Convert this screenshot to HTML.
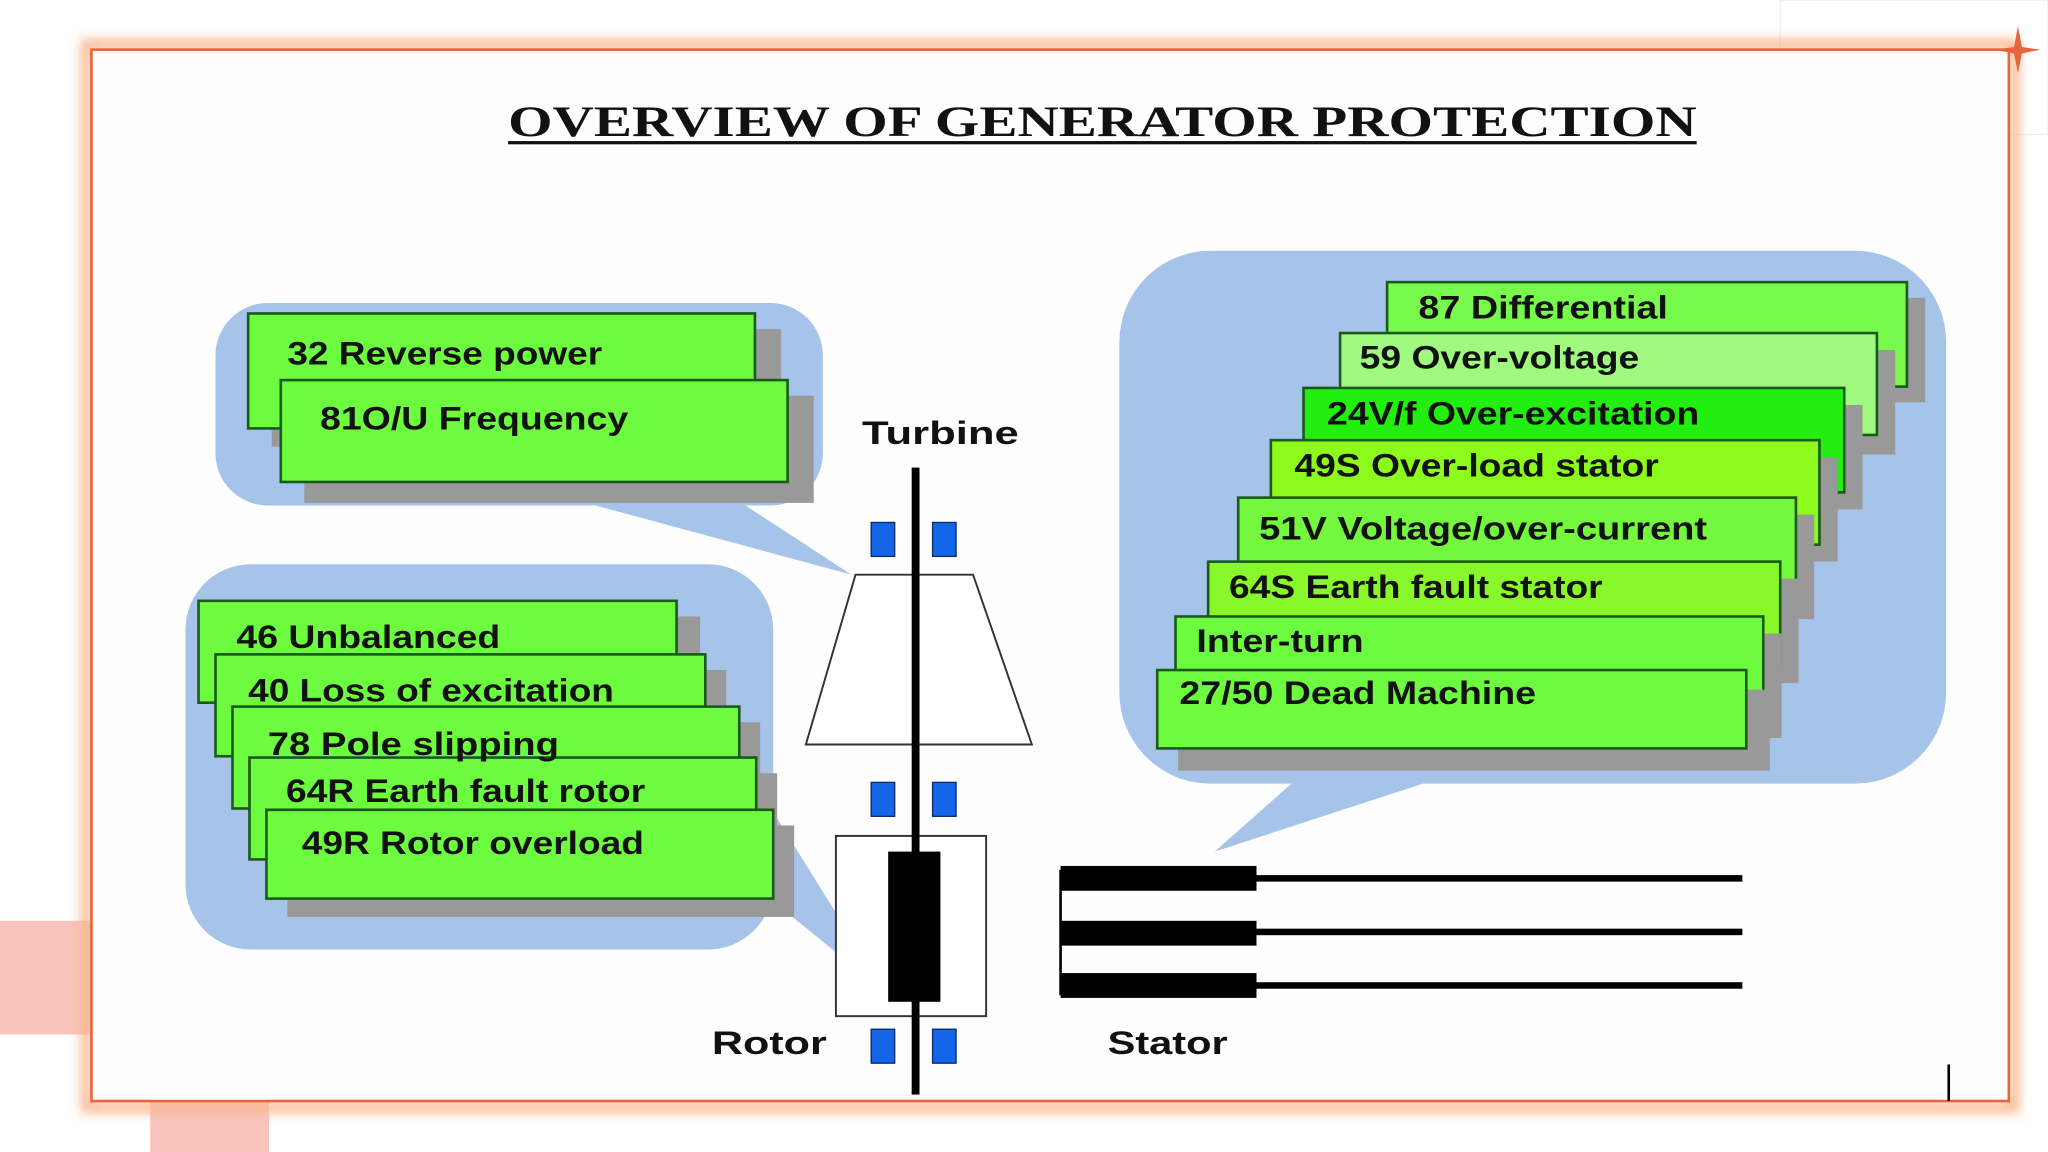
<!DOCTYPE html>
<html><head><meta charset="utf-8"><style>
html,body{margin:0;padding:0;background:#fff;width:2048px;height:1152px;overflow:hidden}
svg{display:block}
text{font-family:"Liberation Sans",Arial,sans-serif;font-weight:bold;fill:#111}
</style></head><body>
<svg width="2048" height="1152" viewBox="0 0 1568 882" xmlns="http://www.w3.org/2000/svg">
<defs>
<filter id="glow" x="-5%" y="-5%" width="110%" height="110%"><feGaussianBlur stdDeviation="4"/></filter>
</defs>
<rect width="1568" height="882" fill="#fff"/>
<rect x="0" y="705" width="70" height="87" fill="#f8c4bb"/>
<rect x="115" y="843" width="91" height="39" fill="#f8c4bb"/>
<rect x="1363" y="0" width="205" height="103" fill="none" stroke="#eee" stroke-width="1"/>
<rect x="66" y="34" width="1476" height="814" fill="none" stroke="#f8b890" stroke-width="8" filter="url(#glow)"/>
<rect x="70" y="38" width="1468" height="805" fill="#fefefe" stroke="#e8643c" stroke-width="2"/>
<path d="M1545 20 L1548 36 L1562 38 L1548 41 L1545 56 L1542 41 L1527 38 L1542 36Z" fill="#e8643c"/>

<text x="389" y="104" textLength="910" lengthAdjust="spacingAndGlyphs" style="font-family:'Liberation Serif',serif;font-size:33px">OVERVIEW OF GENERATOR PROTECTION</text>
<rect x="389" y="108" width="910" height="2.5" fill="#111"/>

<g fill="#a6c3ea">
<rect x="165" y="232" width="465" height="155" rx="40"/>
<path d="M430 380 L560 380 L652 440Z"/>
<rect x="142" y="432" width="450" height="295" rx="50"/>
<path d="M586 612 L592 690 L678 760Z"/>
<rect x="857" y="192" width="633" height="408" rx="70"/>
<path d="M1000 590 L1120 590 L930 652Z"/>
</g>

<g stroke="#1a5a1a" stroke-width="2">
<rect x="208" y="252" width="390" height="90" fill="#999" stroke="none"/>
<rect x="190" y="240" width="388" height="88" fill="#6dfb3f"/>
<rect x="233" y="303" width="390" height="82" fill="#999" stroke="none"/>
<rect x="215" y="291" width="388" height="78" fill="#6dfb3f"/>

<rect x="168" y="472" width="368" height="80" fill="#999" stroke="none"/>
<rect x="152" y="460" width="366" height="78" fill="#6dfb3f"/>
<rect x="181" y="513" width="375" height="80" fill="#999" stroke="none"/>
<rect x="165" y="501" width="375" height="78" fill="#6dfb3f"/>
<rect x="194" y="553" width="388" height="80" fill="#999" stroke="none"/>
<rect x="178" y="541" width="388" height="78" fill="#6dfb3f"/>
<rect x="207" y="592" width="388" height="80" fill="#999" stroke="none"/>
<rect x="191" y="580" width="388" height="78" fill="#6dfb3f"/>
<rect x="220" y="632" width="388" height="70" fill="#999" stroke="none"/>
<rect x="204" y="620" width="388" height="68" fill="#6dfb3f"/>

<rect x="1076" y="228" width="398" height="80" fill="#999" stroke="none"/>
<rect x="1062" y="216" width="398" height="80" fill="#78fa4c"/>
<rect x="1040" y="268" width="411" height="80" fill="#999" stroke="none"/>
<rect x="1026" y="255" width="411" height="78" fill="#a0fa80"/>
<rect x="1012" y="310" width="414" height="80" fill="#999" stroke="none"/>
<rect x="998" y="297" width="414" height="80" fill="#22ee10"/>
<rect x="987" y="350" width="420" height="80" fill="#999" stroke="none"/>
<rect x="973" y="337" width="420" height="80" fill="#8cfb1c"/>
<rect x="962" y="394" width="427" height="80" fill="#999" stroke="none"/>
<rect x="948" y="381" width="427" height="80" fill="#74f83e"/>
<rect x="939" y="443" width="438" height="80" fill="#999" stroke="none"/>
<rect x="925" y="430" width="438" height="80" fill="#88f82a"/>
<rect x="914" y="485" width="450" height="80" fill="#999" stroke="none"/>
<rect x="900" y="472" width="450" height="80" fill="#6dfb3f"/>
<rect x="902" y="528" width="453" height="62" fill="#999" stroke="none"/>
<rect x="886" y="513" width="451" height="60" fill="#6dfb3f"/>
</g>

<g style="font-size:25px">
<text x="220" y="279" textLength="241" lengthAdjust="spacingAndGlyphs">32 Reverse power</text>
<text x="245" y="329" textLength="236" lengthAdjust="spacingAndGlyphs">81O/U Frequency</text>
<text x="181" y="496" textLength="202" lengthAdjust="spacingAndGlyphs">46 Unbalanced</text>
<text x="190" y="537" textLength="280" lengthAdjust="spacingAndGlyphs">40 Loss of excitation</text>
<text x="205" y="578" textLength="223" lengthAdjust="spacingAndGlyphs">78 Pole slipping</text>
<text x="219" y="614" textLength="275" lengthAdjust="spacingAndGlyphs">64R Earth fault rotor</text>
<text x="231" y="654" textLength="262" lengthAdjust="spacingAndGlyphs">49R Rotor overload</text>
<text x="1086" y="244" textLength="191" lengthAdjust="spacingAndGlyphs">87 Differential</text>
<text x="1041" y="282" textLength="214" lengthAdjust="spacingAndGlyphs">59 Over-voltage</text>
<text x="1016" y="325" textLength="285" lengthAdjust="spacingAndGlyphs">24V/f Over-excitation</text>
<text x="991" y="365" textLength="279" lengthAdjust="spacingAndGlyphs">49S Over-load stator</text>
<text x="964" y="413" textLength="343" lengthAdjust="spacingAndGlyphs">51V Voltage/over-current</text>
<text x="941" y="458" textLength="286" lengthAdjust="spacingAndGlyphs">64S Earth fault stator</text>
<text x="916" y="499" textLength="128" lengthAdjust="spacingAndGlyphs">Inter-turn</text>
<text x="903" y="539" textLength="273" lengthAdjust="spacingAndGlyphs">27/50 Dead Machine</text>
<text x="660" y="340" textLength="120" lengthAdjust="spacingAndGlyphs">Turbine</text>
<text x="545" y="807" textLength="88" lengthAdjust="spacingAndGlyphs">Rotor</text>
<text x="848" y="807" textLength="92" lengthAdjust="spacingAndGlyphs">Stator</text>
</g>

<path d="M655 440 L745 440 L790 570 L617 570Z" fill="#fff" stroke="#333" stroke-width="1.5"/>
<rect x="640" y="640" width="115" height="138" fill="#fff" stroke="#333" stroke-width="1.5"/>
<rect x="680" y="652" width="40" height="115" fill="#000"/>
<rect x="698" y="358" width="6" height="480" fill="#000"/>
<g fill="#1565e8" stroke="#0a2a6a" stroke-width="1">
<rect x="667" y="400" width="18" height="26"/><rect x="714" y="400" width="18" height="26"/>
<rect x="667" y="599" width="18" height="26"/><rect x="714" y="599" width="18" height="26"/>
<rect x="667" y="788" width="18" height="26"/><rect x="714" y="788" width="18" height="26"/>
</g>

<rect x="811" y="666" width="2" height="96" fill="#000"/>
<rect x="812" y="663" width="150" height="19" fill="#000"/>
<rect x="812" y="705" width="150" height="19" fill="#000"/>
<rect x="812" y="745" width="150" height="19" fill="#000"/>
<rect x="962" y="670" width="372" height="5" fill="#000"/>
<rect x="962" y="711" width="372" height="5" fill="#000"/>
<rect x="962" y="752" width="372" height="5" fill="#000"/>
<rect x="1491" y="815" width="2" height="28" fill="#000"/>
</svg>
</body></html>
